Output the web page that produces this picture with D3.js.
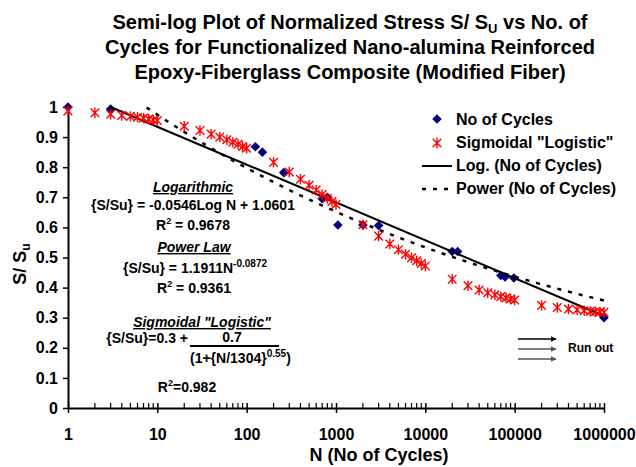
<!DOCTYPE html>
<html>
<head>
<meta charset="utf-8">
<script src="https://cdn.jsdelivr.net/npm/d3@7"></script>
<style>
  html, body { margin: 0; padding: 0; background: #fff; }
  svg { display: block; font-family: "Liberation Sans", Arial, sans-serif; font-weight: bold; }
</style>
</head>
<body>
<svg id="chart" width="636" height="467"></svg>
<script>
// ---------------- data ----------------
const titleLines = [
  ["Semi-log Plot of Normalized Stress S/ S", "U", " vs No. of"],
  ["Cycles for Functionalized Nano-alumina Reinforced"],
  ["Epoxy-Fiberglass Composite (Modified Fiber)"]
];
// measured data points ("No of Cycles")
const cycleN = [1, 3, 125, 150, 260, 700, 800, 1050, 2000, 3000, 20000, 23000, 70000, 78000, 98000, 1000000];
const cycleS = [1.0, 0.993, 0.868, 0.85, 0.782, 0.695, 0.70, 0.608, 0.608, 0.606, 0.52, 0.52, 0.44, 0.435, 0.432, 0.30];
// sigmoidal "logistic" points
const sigN = [1,2,3,4,5,6,7,8,9,10,
  20,30,40,50,60,70,80,90,100,
  200,300,400,500,600,700,800,900,1000,
  2000,3000,4000,5000,6000,7000,8000,9000,10000,
  20000,30000,40000,50000,60000,70000,80000,90000,100000,
  200000,300000,400000,500000,600000,700000,800000,900000,1000000];
const sigS = [0.987,0.981,0.976,0.972,0.969,0.966,0.963,0.960,0.957,0.955,
  0.936,0.922,0.910,0.900,0.891,0.883,0.876,0.869,0.863,
  0.816,0.784,0.760,0.740,0.724,0.709,0.697,0.686,0.676,
  0.609,0.571,0.545,0.526,0.511,0.499,0.489,0.480,0.472,
  0.428,0.406,0.392,0.383,0.376,0.370,0.366,0.362,0.359,
  0.341,0.334,0.329,0.326,0.323,0.321,0.320,0.319,0.318];
// trend line coefficients (as printed on the chart)
const logSlope = -0.0546, logIntercept = 1.0601;
const powCoef = 1.1911, powExp = -0.0872;
const trendRange = [3, 1000000];
// axes
const xTicks = [1, 10, 100, 1000, 10000, 100000, 1000000];
const yTicks = [0, 0.1, 0.2, 0.3, 0.4, 0.5, 0.6, 0.7, 0.8, 0.9, 1];
const legendItems = ["No of Cycles", "Sigmoidal \"Logistic\"", "Log. (No of Cycles)", "Power (No of Cycles)"];

// ---------------- chart ----------------
const svg = d3.select("#chart");
const L = 68, R = 604, T = 107, B = 408;
const x = d3.scaleLog().domain([1, 1e6]).range([L, R]);
const y = d3.scaleLinear().domain([0, 1]).range([B, T]);

// title
const title = svg.append("text").attr("text-anchor", "middle").attr("font-size", 20);
titleLines.forEach((parts, i) => {
  const line = title.append("tspan").attr("x", 350).attr("y", 29 + i * 25);
  if (parts.length === 1) line.text(parts[0]);
  else {
    line.text(parts[0]);
    line.append("tspan").attr("font-size", 13).attr("dy", 4).text(parts[1]);
    line.append("tspan").attr("font-size", 20).attr("dy", -4).text(parts[2]);
  }
});

// axes
const yAxis = d3.axisLeft(y).tickValues(yTicks).tickSize(5).tickSizeOuter(0).tickPadding(5)
  .tickFormat(d => d3.format("~g")(d));
const gy = svg.append("g").attr("transform", `translate(${L},0)`).call(yAxis);
gy.select(".domain").attr("stroke-width", 2).attr("stroke", "#000");
gy.selectAll(".tick line").attr("stroke-width", 1.5);
gy.selectAll(".tick text").attr("font-size", 16).attr("font-weight", "bold").attr("fill", "#000")
  .attr("font-family", "Liberation Sans, Arial, sans-serif");

const xAxis = d3.axisBottom(x).tickValues(xTicks).tickSize(5).tickSizeOuter(0).tickPadding(16)
  .tickFormat(d3.format("d"));
const gx = svg.append("g").attr("transform", `translate(0,${B})`).call(xAxis);
gx.select(".domain").attr("stroke-width", 2).attr("stroke", "#000");
gx.selectAll(".tick line").attr("y1", -5).attr("y2", 5).attr("stroke-width", 1.5);
gx.selectAll(".tick text").attr("font-size", 16).attr("font-weight", "bold").attr("fill", "#000")
  .attr("font-family", "Liberation Sans, Arial, sans-serif");
// minor ticks
const minor = [];
for (let p = 0; p < 6; p++) for (let m = 2; m <= 9; m++) minor.push(m * Math.pow(10, p));
svg.append("g").selectAll("line").data(minor).join("line")
  .attr("x1", d => x(d)).attr("x2", d => x(d)).attr("y1", B - 5).attr("y2", B)
  .attr("stroke", "#000").attr("stroke-width", 1.2);

// axis titles
svg.append("text").attr("x", 379).attr("y", 461).attr("text-anchor", "middle").attr("font-size", 18)
  .text("N (No of Cycles)");
const yt = svg.append("text").attr("transform", "translate(26,264) rotate(-90)")
  .attr("text-anchor", "middle").attr("font-size", 18);
yt.append("tspan").text("S/ S");
yt.append("tspan").attr("font-size", 12).attr("dy", 4).text("u");

// clip
svg.append("clipPath").attr("id", "plotclip").append("rect")
  .attr("x", L).attr("y", T - 1).attr("width", R - L + 2).attr("height", B - T);

// markers
const diamond = d3.symbol().type(d3.symbolSquare).size(46);
const starPath = "M-4.3,-4.3L4.3,4.3M-4.3,4.3L4.3,-4.3M0,-5.2L0,5.2";

const cycles = cycleN.map((n, i) => ({ n, s: cycleS[i] }));
svg.append("g").selectAll("path").data(cycles).join("path")
  .attr("d", diamond)
  .attr("transform", d => `translate(${x(d.n)},${y(d.s)}) rotate(45)`)
  .attr("fill", "#000080");

// trend lines
const logLine = d3.line().x(d => x(d)).y(d => y(logSlope * Math.log(d) + logIntercept));
svg.append("path").datum(trendRange).attr("d", logLine)
  .attr("fill", "none").attr("stroke", "#000").attr("stroke-width", 2);

const powSamples = d3.range(0, 101).map(i => trendRange[0] * Math.pow(trendRange[1] / trendRange[0], i / 100));
const powLine = d3.line().x(d => x(d)).y(d => y(powCoef * Math.pow(d, powExp)));
svg.append("path").datum(powSamples).attr("d", powLine).attr("clip-path", "url(#plotclip)")
  .attr("fill", "none").attr("stroke", "#000").attr("stroke-width", 2.5).attr("stroke-dasharray", "4,7");

const sig = sigN.map((n, i) => ({ n, s: sigS[i] }));
svg.append("g").selectAll("path").data(sig).join("path")
  .attr("d", starPath)
  .attr("transform", d => `translate(${x(d.n)},${y(d.s)})`)
  .attr("fill", "none").attr("stroke", "#ff0000").attr("stroke-width", 1.4);

// legend
const lg = svg.append("g").attr("font-size", 16);
const ly = [125, 148, 171, 194];
legendItems.forEach((t, i) => lg.append("text").attr("x", 456).attr("y", ly[i]).text(t));
lg.append("path").attr("d", diamond).attr("transform", "translate(437,119) rotate(45)").attr("fill", "#000080");
lg.append("path").attr("d", starPath).attr("transform", "translate(437,143)")
  .attr("fill", "none").attr("stroke", "#ff0000").attr("stroke-width", 1.4);
lg.append("line").attr("x1", 422).attr("x2", 452).attr("y1", 166).attr("y2", 166)
  .attr("stroke", "#000").attr("stroke-width", 2);
lg.append("line").attr("x1", 422).attr("x2", 452).attr("y1", 189).attr("y2", 189)
  .attr("stroke", "#000").attr("stroke-width", 2.5).attr("stroke-dasharray", "4,7");

// annotations
const ann = svg.append("g").attr("font-size", 14).attr("text-anchor", "middle");
const heading = (txt, cx, by) => ann.append("text").attr("x", cx).attr("y", by)
  .attr("font-style", "italic").attr("text-decoration", "underline").text(txt);
heading("Logarithmic", 193, 192);
ann.append("text").attr("x", 193).attr("y", 210).text("{S/Su} = -0.0546Log N + 1.0601");
let t = ann.append("text").attr("x", 193).attr("y", 230);
t.append("tspan").text("R");
t.append("tspan").attr("font-size", 9).attr("dy", -6).text("2");
t.append("tspan").attr("dy", 6).text(" = 0.9678");
heading("Power Law", 194, 252);
t = ann.append("text").attr("x", 195).attr("y", 273);
t.append("tspan").text("{S/Su} = 1.1911N");
t.append("tspan").attr("font-size", 10).attr("dy", -6).text("-0.0872");
t = ann.append("text").attr("x", 194).attr("y", 293);
t.append("tspan").text("R");
t.append("tspan").attr("font-size", 9).attr("dy", -6).text("2");
t.append("tspan").attr("dy", 6).text(" = 0.9361");
heading("Sigmoidal \"Logistic\"", 202, 327);
ann.append("text").attr("x", 188).attr("y", 343).attr("text-anchor", "end").text("{S/Su}=0.3 +");
ann.append("text").attr("x", 232).attr("y", 342).text("0.7");
ann.append("line").attr("x1", 190).attr("x2", 279).attr("y1", 346).attr("y2", 346)
  .attr("stroke", "#000").attr("stroke-width", 2);
t = ann.append("text").attr("x", 190).attr("y", 363).attr("text-anchor", "start");
t.append("tspan").text("(1+{N/1304}");
t.append("tspan").attr("font-size", 10).attr("dy", -6).text("0.55");
t.append("tspan").attr("dy", 6).text(")");
t = ann.append("text").attr("x", 187).attr("y", 392);
t.append("tspan").text("R");
t.append("tspan").attr("font-size", 9).attr("dy", -6).text("2");
t.append("tspan").attr("dy", 6).text("=0.982");

// run out arrows
const defs = svg.append("defs");
[["arrBlack", "#000"], ["arrGray", "#555"]].forEach(([id, c]) => {
  defs.append("marker").attr("id", id).attr("viewBox", "0 0 10 10").attr("refX", 9).attr("refY", 5)
    .attr("markerWidth", 6).attr("markerHeight", 6).attr("markerUnits", "userSpaceOnUse").attr("orient", "auto")
    .append("path").attr("d", "M0,0L10,5L0,10Z").attr("fill", c);
});
[[339, "#000", "arrBlack"], [349, "#555", "arrGray"], [359, "#555", "arrGray"]].forEach(([yy, c, m]) => {
  svg.append("line").attr("x1", 518).attr("x2", 556).attr("y1", yy).attr("y2", yy)
    .attr("stroke", c).attr("stroke-width", 1.3).attr("marker-end", `url(#${m})`);
});
svg.append("text").attr("x", 568).attr("y", 352).attr("font-size", 12).text("Run out");
</script>
</body>
</html>
